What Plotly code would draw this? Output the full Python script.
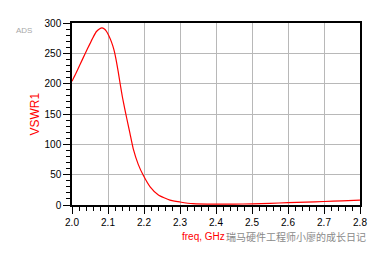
import plotly.graph_objects as go

freq_ghz = [2.000, 2.011, 2.022, 2.036, 2.050, 2.060, 2.068, 2.076, 2.083, 2.090, 2.096, 2.103, 2.110,
            2.116, 2.122, 2.128, 2.134, 2.140, 2.146, 2.152, 2.161, 2.170, 2.184, 2.198, 2.217, 2.240,
            2.272, 2.300, 2.336, 2.40, 2.45, 2.50, 2.55, 2.60, 2.65, 2.70, 2.75, 2.80]
vswr1 = [204, 217, 231, 249, 266, 278, 286, 290, 292, 290, 286, 278, 268,
         257, 241, 221, 199, 178, 160, 143, 118, 93, 67, 49, 30, 16.5,
         8, 5, 2.2, 1.3, 1.4, 2.0, 2.8, 3.8, 4.8, 5.8, 6.8, 8.0]

x_ticks = [2.0, 2.1, 2.2, 2.3, 2.4, 2.5, 2.6, 2.7, 2.8]
y_ticks = [0, 50, 100, 150, 200, 250, 300]

fig = go.Figure()
fig.add_trace(go.Scatter(x=freq_ghz, y=vswr1, mode="lines",
                         line=dict(color="#ff0000", width=1.2, shape="spline", smoothing=0.5),
                         showlegend=False, hoverinfo="skip"))

axis_common = dict(showline=True, linecolor="black", linewidth=1.5, mirror=True,
                   ticks="outside", ticklen=7, tickwidth=1.3, tickcolor="black",
                   showgrid=True, gridcolor="#b8b8b8", gridwidth=1.3, zeroline=False,
                   tickfont=dict(family="Liberation Sans, Arial", size=10, color="#000"))

fig.update_xaxes(range=[2.0, 2.8], tickvals=x_ticks, ticktext=[f"{v:.1f}" for v in x_ticks],
                 minor=dict(dtick=0.02, tick0=2.0, ticks="outside", ticklen=4, tickwidth=1.2,
                            tickcolor="black", showgrid=False),
                 **axis_common)
fig.update_yaxes(range=[0, 300], tickvals=y_ticks,
                 minor=dict(dtick=10, tick0=0, ticks="outside", ticklen=4, tickwidth=1.2,
                            tickcolor="black", showgrid=False),
                 **axis_common)

fig.add_annotation(text="VSWR1", xref="paper", yref="paper", x=-0.13, y=0.5,
                   xanchor="center", yanchor="middle", showarrow=False, textangle=-90,
                   font=dict(family="Liberation Sans, Arial", size=12, color="#ff0000"))
fig.add_annotation(text="ADS", xref="paper", yref="paper", x=-0.165, y=0.96,
                   xanchor="center", yanchor="middle", showarrow=False,
                   font=dict(family="Liberation Sans, Arial", size=8, color="#a8a8a8"))
fig.add_annotation(text="瑞马硬件工程师小廖的成长日记", xref="paper", yref="paper", x=1.028, y=-0.175,
                   xanchor="right", yanchor="middle", showarrow=False,
                   font=dict(family="Noto Sans CJK SC", size=10, color="#8a8a8a"))
fig.add_annotation(text="freq, GHz", xref="paper", yref="paper", x=0.455, y=-0.175,
                   xanchor="center", yanchor="middle", showarrow=False,
                   font=dict(family="Liberation Sans, Arial", size=10, color="#ff0000"))

fig.update_layout(width=379, height=253, autosize=False,
                  margin=dict(l=72, r=19, t=23, b=48),
                  paper_bgcolor="white", plot_bgcolor="white")

fig.write_html("out.html")
